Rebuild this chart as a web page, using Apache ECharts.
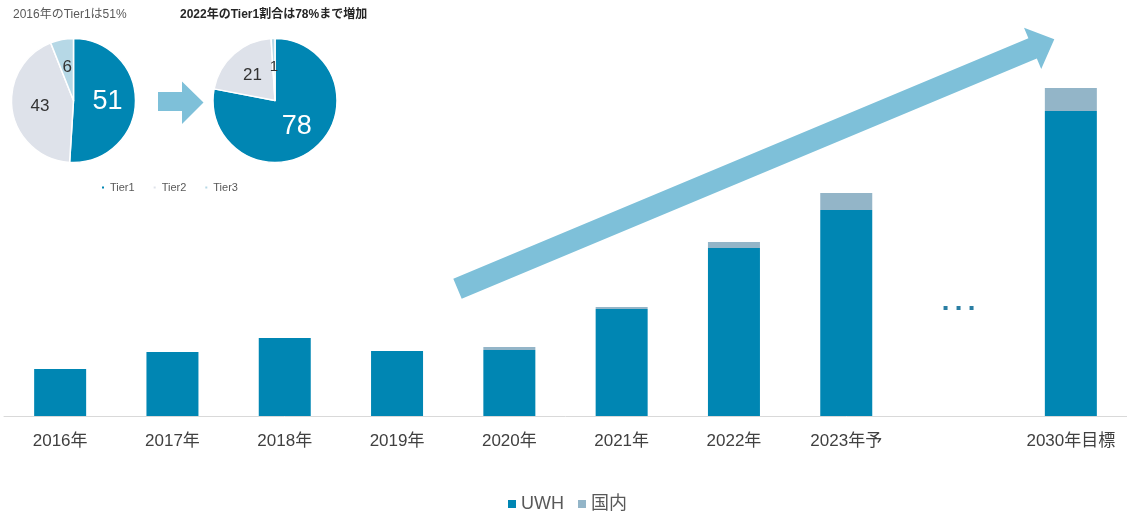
<!DOCTYPE html>
<html>
<head>
<meta charset="utf-8">
<script src="https://cdn.jsdelivr.net/npm/echarts@6/dist/echarts.min.js"></script>
<style>
  html, body { margin: 0; padding: 0; background: #ffffff; }
  #chart { width: 1127px; height: 512px; }
</style>
</head>
<body>
<div id="chart"></div>
<script>
// Bar categories and values (stacked: UWH + 国内)
const categories = ['2016年', '2017年', '2018年', '2019年', '2020年', '2021年', '2022年', '2023年予', '', '2030年目標'];
const uwh = [47, 64, 78, 65, 66, 107, 168, 206, null, 305];
const domestic = [0, 0, 0, 0, 3, 2, 6, 17, null, 23];

// Tier composition pies
const tiers = ['Tier1', 'Tier2', 'Tier3'];
const share2016 = [51, 43, 6];
const share2022 = [78, 21, 1];

// Titles above the pies
const pieTitles = ['2016年のTier1は51%', '2022年のTier1割合は78%まで増加'];

// Level of the "…" marker in the gap before 2030
const gapIndex = 8;
const gapLevel = 108;

const FONT = '"Liberation Sans", Arial, "Noto Sans CJK JP", sans-serif';
const C_UWH = '#0086b3';
const C_DOM = '#93b5c8';
const C_ARROW = '#7ec0d9';
const tierColors = ['#0086b3', '#dee2ea', '#b6d8e6'];

function pieData(values, labelStyles) {
  return values.map((v, i) => ({
    name: tiers[i],
    value: v,
    itemStyle: { color: tierColors[i] },
    label: labelStyles[i]
  }));
}

const bigWhite = { color: '#ffffff', fontSize: 27 };
const midDark = { color: '#333333', fontSize: 17 };

// Big rising arrow over the bars
function arrowPolygon(tail, tip, shaftHalf, headLen, headHalf) {
  const dx = tip[0] - tail[0], dy = tip[1] - tail[1];
  const L = Math.hypot(dx, dy);
  const ux = dx / L, uy = dy / L;
  const nx = -uy, ny = ux;
  const bx = tip[0] - ux * headLen, by = tip[1] - uy * headLen;
  return [
    [tail[0] - nx * shaftHalf, tail[1] - ny * shaftHalf],
    [bx - nx * shaftHalf, by - ny * shaftHalf],
    [bx - nx * headHalf, by - ny * headHalf],
    tip,
    [bx + nx * headHalf, by + ny * headHalf],
    [bx + nx * shaftHalf, by + ny * shaftHalf],
    [tail[0] + nx * shaftHalf, tail[1] + ny * shaftHalf]
  ];
}

const chart = echarts.init(document.getElementById('chart'), null, { renderer: 'canvas' });

const option = {
  animation: false,
  backgroundColor: '#ffffff',
  textStyle: { fontFamily: FONT },
  grid: { left: 4, top: 16, width: 1126, height: 400, containLabel: false },
  xAxis: {
    type: 'category',
    data: categories,
    axisLine: { lineStyle: { color: '#d9d9d9', width: 1 } },
    axisTick: { show: false },
    axisLabel: { color: '#404040', fontSize: 17, margin: 17, fontFamily: FONT, interval: 0 }
  },
  yAxis: {
    type: 'value',
    min: 0,
    max: 400,
    show: false,
    splitLine: { show: false }
  },
  legend: [
    {
      data: ['UWH', '国内'],
      left: 508,
      top: 495,
      padding: 0,
      icon: 'rect',
      itemWidth: 8,
      itemHeight: 8,
      itemGap: 14,
      textStyle: { color: '#595959', fontSize: 18, fontFamily: FONT },
      selectedMode: false
    },
    {
      data: tiers,
      left: 100,
      top: 182,
      padding: 0,
      icon: 'rect',
      itemWidth: 4,
      itemHeight: 4,
      itemGap: 17,
      textStyle: { color: '#595959', fontSize: 11, fontFamily: FONT },
      selectedMode: false
    }
  ],
  title: [
    {
      text: pieTitles[0],
      left: 13,
      top: 9,
      padding: 0,
      textStyle: { color: '#595959', fontSize: 12, fontWeight: 'normal', fontFamily: FONT }
    },
    {
      text: pieTitles[1],
      left: 180,
      top: 9,
      padding: 0,
      textStyle: { color: '#262626', fontSize: 12, fontWeight: 'bold', fontFamily: FONT }
    }
  ],
  series: [
    {
      name: 'UWH',
      type: 'bar',
      stack: 'total',
      barWidth: 52,
      data: uwh,
      itemStyle: { color: C_UWH },
      emphasis: { disabled: true }
    },
    {
      name: '国内',
      type: 'bar',
      stack: 'total',
      barWidth: 52,
      data: domestic,
      itemStyle: { color: C_DOM },
      emphasis: { disabled: true }
    },
    {
      name: '2016',
      type: 'pie',
      center: [73.5, 100.5],
      radius: [0, 62],
      startAngle: 90,
      clockwise: true,
      silent: true,
      itemStyle: { borderColor: '#ffffff', borderWidth: 1.5 },
      label: { show: true, position: 'inside', formatter: '{c}', fontFamily: FONT },
      labelLine: { show: false },
      data: pieData(share2016, [bigWhite, midDark, midDark])
    },
    {
      name: '2022',
      type: 'pie',
      center: [275, 100.5],
      radius: [0, 62],
      startAngle: 90,
      clockwise: true,
      silent: true,
      itemStyle: { borderColor: '#ffffff', borderWidth: 1.5 },
      label: { show: true, position: 'inside', formatter: '{c}', fontFamily: FONT },
      labelLine: { show: false },
      data: pieData(share2022, [bigWhite, midDark, { color: '#333333', fontSize: 15 }])
    }
  ],
  graphic: [
    {
      type: 'polygon',
      silent: true,
      z: 10,
      shape: { points: arrowPolygon([457.5, 288.8], [1054.3, 39.3], 10.9, 23.5, 22.3) },
      style: { fill: C_ARROW }
    },
    {
      type: 'polygon',
      silent: true,
      shape: { points: [[158, 92], [182, 92], [182, 81.5], [203.5, 102.5], [182, 124], [182, 111], [158, 111]] },
      style: { fill: C_ARROW }
    }
  ]
};

chart.setOption(option);

// "…" marker in the gap between 2023 and 2030
const gapPt = chart.convertToPixel({ gridIndex: 0 }, [gapIndex, gapLevel]);
const dots = [-13, 0, 13].map(off => ({
  type: 'rect',
  silent: true,
  shape: { x: gapPt[0] + off - 2, y: gapPt[1] - 2, width: 4, height: 4 },
  style: { fill: '#2a7ea3' }
}));
chart.setOption({ graphic: option.graphic.concat(dots) });
</script>
</body>
</html>
